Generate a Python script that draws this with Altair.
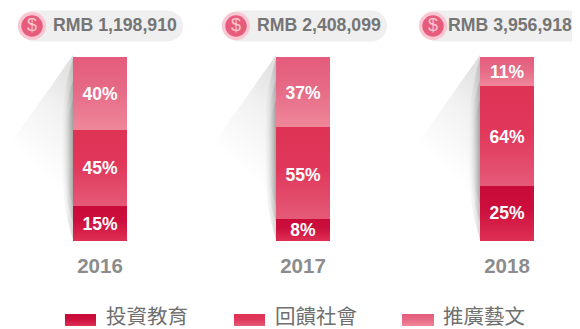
import altair as alt
import pandas as pd

years = [2016, 2017, 2018]
totals = ["RMB 1,198,910", "RMB 2,408,099", "RMB 3,956,918"]
series_names = ["投資教育", "回饋社會", "推廣藝文"]
# drawn heights of the segments (share of the column)
invest_h = [19.0, 12.0, 29.9]
social_h = [41.3, 50.0, 54.3]
arts_h = [39.7, 38.0, 15.8]
# printed labels
invest_lbl = ["15%", "8%", "25%"]
social_lbl = ["45%", "55%", "64%"]
arts_lbl = ["40%", "37%", "11%"]

W, H = 564, 321
M = 8
BOTTOM, PX_PER = 241, 1.84

px_x = alt.Scale(domain=[M, M + W], range=[0, W])
px_y = alt.Scale(domain=[M, M + H], range=[0, H])
yr_x = alt.Scale(domain=years, range=[92, 295, 499], padding=0)
share_y = alt.Scale(domain=[(BOTTOM - M - H) / PX_PER, (BOTTOM - M) / PX_PER], range=[H, 0])
FONT = "Liberation Sans"
CJK = "Noto Sans CJK TC"


def lin(stops, x1=0, y1=0, x2=0, y2=1):
    return alt.Gradient(
        gradient="linear",
        stops=[alt.GradientStop(color=c, offset=o) for o, c in stops],
        x1=x1, y1=y1, x2=x2, y2=y2,
    )


GRAD = [
    lin([(0, "#c90b3a"), (0.4, "#cb0e3c"), (1, "#df3054")]),
    lin([(0, "#de3355"), (0.45, "#e0375a"), (1, "#e55a78")]),
    lin([(0, "#e45c7b"), (0.45, "#e66a86"), (1, "#ef8799")]),
]
# stacked crescents: (top, bottom, widest reach, edge alpha)
CRESCENTS = [(58, 240, 12, 0.22), (80, 222, 10, 0.18), (100, 205, 8, 0.16)]

layers = []

# soft cast shadows behind the columns
for left in [73, 276, 480]:
    tri = pd.DataFrame({"y": [55, 160, 241], "a": [left, left - 74, left - 22], "b": [left, left, left]})
    layers.append(
        alt.Chart(tri).mark_area(
            orient="horizontal",
            color=lin([(0, "#dcdcdc"), (0.45, "#f1f1f1"), (1, "#ffffff")], x1=1, y1=0, x2=0.75, y2=0.7),
        ).encode(
            y=alt.Y("y:Q", scale=px_y, axis=None),
            x=alt.X("a:Q", scale=px_x, axis=None),
            x2="b:Q",
        )
    )
    for top_y, bot_y, reach, alpha in CRESCENTS:
        span = bot_y - top_y
        cres = pd.DataFrame({
            "y": [top_y + span * f for f in (0, 0.2, 0.5, 0.8, 1)],
            "a": [left, left - reach * 0.7, left - reach, left - reach * 0.7, left],
            "b": [left] * 5,
        })
        layers.append(
            alt.Chart(cres).mark_area(
                orient="horizontal",
                interpolate="monotone",
                color=lin(
                    [(0, f"rgba(70,70,70,{alpha})"), (0.5, f"rgba(90,90,90,{alpha * 0.4})"), (1, "rgba(120,120,120,0)")],
                    x1=1, y1=0, x2=0, y2=0,
                ),
            ).encode(
                y=alt.Y("y:Q", scale=px_y, axis=None),
                x=alt.X("a:Q", scale=px_x, axis=None),
                x2="b:Q",
            )
        )

# pills
pill_x0 = [20, 224, 422]
pill_x1 = [183, 387, 592]
circ_x = [32, 236, 433]
text_x = [53, 257, 448]
pills = pd.DataFrame({"x0": pill_x0, "x1": pill_x1, "y0": [10.5] * 3, "y1": [41.5] * 3})
layers.append(
    alt.Chart(pills).mark_bar(color="#efefef", cornerRadius=15.5, clip=True).encode(
        x=alt.X("x0:Q", scale=px_x, axis=None), x2="x1:Q",
        y=alt.Y("y0:Q", scale=px_y, axis=None), y2="y1:Q",
    )
)
circ = pd.DataFrame({"x": circ_x, "y": [26] * 3, "s": ["$"] * 3, "t": totals, "tx": text_x})
for size, col in [(800, "#f9c8d2"), (460, "#e75b7c")]:
    layers.append(
        alt.Chart(circ).mark_point(filled=True, shape="circle", size=size, color=col, opacity=1).encode(
            x=alt.X("x:Q", scale=px_x, axis=None),
            y=alt.Y("y:Q", scale=px_y, axis=None),
        )
    )
layers.append(
    alt.Chart(circ).mark_text(font=FONT, fontSize=18, color="#f9c3ce", baseline="middle", align="center").encode(
        x=alt.X("x:Q", scale=px_x, axis=None),
        y=alt.Y("y:Q", scale=px_y, axis=None),
        text="s:N",
    )
)
layers.append(
    alt.Chart(circ).mark_text(font=FONT, fontSize=17.7, fontWeight="bold", color="#757575", baseline="middle", align="left").encode(
        x=alt.X("tx:Q", scale=px_x, axis=None),
        y=alt.Y("y:Q", scale=px_y, axis=None),
        text="t:N",
    )
)

# stacked columns
NUDGE = [[0, 0, 0], [0, 2.5, 0.5], [0, 1, 0.5]]
base = [0.0, 0.0, 0.0]
for i, (hs, lbls) in enumerate([(invest_h, invest_lbl), (social_h, social_lbl), (arts_h, arts_lbl)]):
    top = [b + h for b, h in zip(base, hs)]
    d = pd.DataFrame({
        "year": years, "lo": base, "hi": top,
        "mid": [(b + t) / 2 - n / PX_PER for b, t, n in zip(base, top, NUDGE[i])], "lbl": lbls,
    })
    layers.append(
        alt.Chart(d).mark_bar(size=54, color=GRAD[i]).encode(
            x=alt.X("year:Q", scale=yr_x, axis=None),
            y=alt.Y("lo:Q", scale=share_y, axis=None),
            y2="hi:Q",
        )
    )
    layers.append(
        alt.Chart(d).mark_text(font=FONT, fontSize=17.5, fontWeight="bold", color="#ffffff", baseline="middle", align="center", dy=1).encode(
            x=alt.X("year:Q", scale=yr_x, axis=None),
            y=alt.Y("mid:Q", scale=share_y, axis=None),
            text="lbl:N",
        )
    )
    base = top

# year labels
yl = pd.DataFrame({"year": years, "y": [267] * 3, "t": [str(v) for v in years]})
layers.append(
    alt.Chart(yl).mark_text(font=FONT, fontSize=20.5, fontWeight="bold", color="#8c8c8c", baseline="middle", align="center").encode(
        x=alt.X("year:Q", scale=yr_x, axis=None),
        y=alt.Y("y:Q", scale=px_y, axis=None),
        text="t:N",
    )
)

# legend
sw_x0 = [65, 234, 402]
sw_x1 = [96, 265, 434]
lt_x = [106, 275, 443]
for i, name in enumerate(series_names):
    s = pd.DataFrame({"x0": [sw_x0[i]], "x1": [sw_x1[i]], "y0": [314], "y1": [326]})
    layers.append(
        alt.Chart(s).mark_bar(color=GRAD[i]).encode(
            x=alt.X("x0:Q", scale=px_x, axis=None), x2="x1:Q",
            y=alt.Y("y0:Q", scale=px_y, axis=None), y2="y1:Q",
        )
    )
    t = pd.DataFrame({"x": [lt_x[i]], "y": [317.5], "t": [name]})
    layers.append(
        alt.Chart(t).mark_text(font=CJK, fontSize=20.5, color="#6f6f6f", baseline="middle", align="left").encode(
            x=alt.X("x:Q", scale=px_x, axis=None),
            y=alt.Y("y:Q", scale=px_y, axis=None),
            text="t:N",
        )
    )

chart = (
    alt.layer(*layers)
    .resolve_scale(x="independent", y="independent")
    .properties(width=W, height=H, padding=0, background="#ffffff", autosize=alt.AutoSizeParams(type="none"))
    .configure_view(strokeWidth=0)
)
chart.save("out.html", embed_options={"renderer": "svg", "actions": False})
